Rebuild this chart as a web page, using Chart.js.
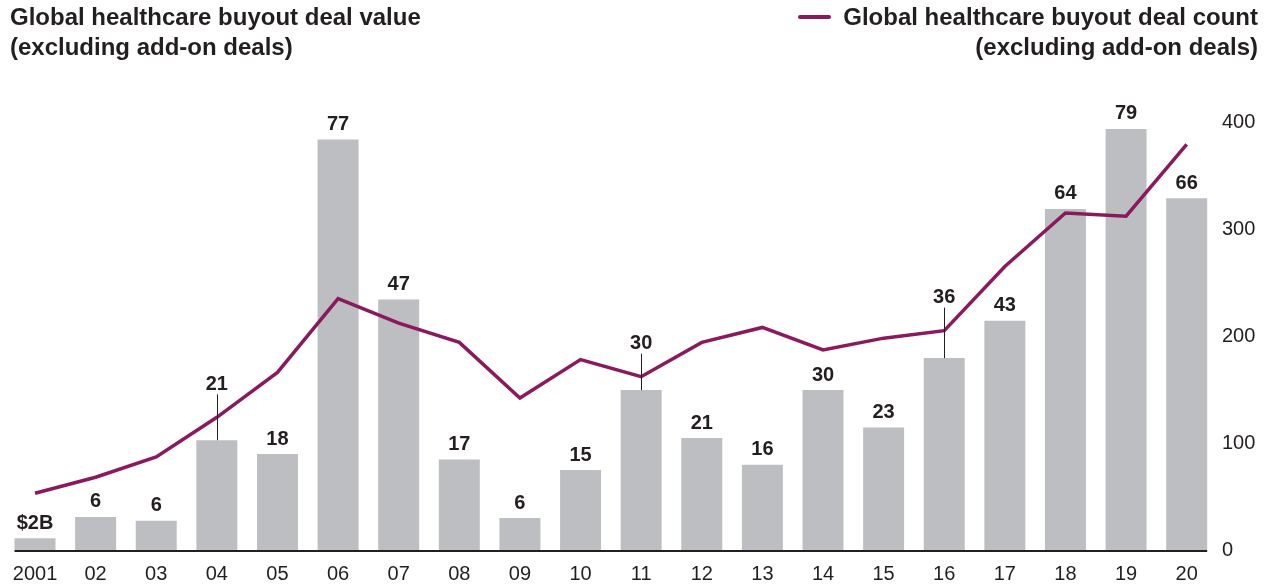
<!DOCTYPE html>
<html>
<head>
<meta charset="utf-8">
<script src="https://cdn.jsdelivr.net/npm/chart.js@4/dist/chart.umd.min.js"></script>
<style>
  html, body { margin: 0; padding: 0; background: #fff; }
  #wrap { position: relative; width: 1272px; height: 586px; overflow: hidden; font-family: "Liberation Sans", Arial, sans-serif; color: #231F20; }
  #c { position: absolute; left: 0; top: 0; }
  .title { position: absolute; font-weight: bold; font-size: 24px; line-height: 30px; white-space: nowrap; }
  #t1 { left: 10px; top: 2px; }
  #t2 { right: 14px; top: 2px; text-align: right; }
  #leg { position: absolute; left: 798px; top: 15px; width: 33px; height: 4px; background: #8A1A5E; border-radius: 2px; }
</style>
</head>
<body>
<div id="wrap">
  <canvas id="c" width="1272" height="586"></canvas>
  <div class="title" id="t1">Global healthcare buyout deal value<br>(excluding add-on deals)</div>
  <div id="leg"></div>
  <div class="title" id="t2">Global healthcare buyout deal count<br>(excluding add-on deals)</div>
</div>
<script>
const categories = ["2001","02","03","04","05","06","07","08","09","10","11","12","13","14","15","16","17","18","19","20"];
const dealValue = [2.2,6.2,5.5,20.6,18,77,47,17,6,15,30,21,16,30,23,36,43,64,79,66];
const valueLabels = ["$2B","6","6","21","18","77","47","17","6","15","30","21","16","30","23","36","43","64","79","66"];
const dealCount = [53,68,87,124,166,235,212,194,142,178,162,194,208,187,198,205,265,315,312,379];
const countTicks = [0,100,200,300,400];

const TEXT = "#231F20";
const FONT = "'Liberation Sans', Arial, sans-serif";

const overlay = {
  id: "overlay",
  afterDatasetsDraw(chart) {
    const ctx = chart.ctx;
    const lineMeta = chart.getDatasetMeta(0);
    const barMeta = chart.getDatasetMeta(1);
    ctx.save();
    // baseline
    const first = barMeta.data[0], last = barMeta.data[barMeta.data.length - 1];
    const yBase = chart.scales.yBar.getPixelForValue(0);
    ctx.strokeStyle = TEXT;
    ctx.lineWidth = 2;
    ctx.beginPath();
    ctx.moveTo(first.x - first.width / 2, yBase + 1);
    ctx.lineTo(last.x + last.width / 2, yBase + 1);
    ctx.stroke();
    // labels
    ctx.font = "bold 20px " + FONT;
    ctx.fillStyle = TEXT;
    ctx.textAlign = "center";
    ctx.textBaseline = "middle";
    barMeta.data.forEach((bar, i) => {
      const top = bar.y;
      let ly = top - 15;
      const lineY = lineMeta.data[i].y;
      if (lineY > ly - 14 && lineY < ly + 12) {
        ly = lineY - 33;
        ctx.strokeStyle = TEXT;
        ctx.lineWidth = 1;
        ctx.beginPath();
        ctx.moveTo(Math.round(bar.x) + 0.5, ly + 10);
        ctx.lineTo(Math.round(bar.x) + 0.5, top);
        ctx.stroke();
      }
      ctx.fillText(valueLabels[i], bar.x, ly);
    });
    ctx.restore();
  }
};

new Chart(document.getElementById("c"), {
  data: {
    labels: categories,
    datasets: [
      {
        type: "line",
        data: dealCount,
        yAxisID: "yCount",
        borderColor: "#8A1A5E",
        borderWidth: 3.5,
        pointRadius: 0,
        tension: 0,
        order: 0
      },
      {
        type: "bar",
        data: dealValue,
        yAxisID: "yBar",
        backgroundColor: "#BDBEC2",
        categoryPercentage: 1,
        barPercentage: 0.676,
        order: 1
      }
    ]
  },
  options: {
    responsive: false,
    animation: false,
    events: [],
    layout: { padding: { left: 4.7, top: 122, right: 0, bottom: 0 } },
    plugins: { legend: { display: false }, tooltip: { enabled: false } },
    scales: {
      x: {
        grid: { display: false, drawTicks: false },
        border: { display: false },
        ticks: { color: TEXT, font: { family: FONT, size: 20 }, padding: 12, maxRotation: 0, autoSkip: false },
        afterFit(s) { s.height = 36; }
      },
      yBar: {
        display: false,
        min: 0,
        max: 80.3
      },
      yCount: {
        position: "right",
        min: 0,
        max: 400,
        grid: { display: false, drawTicks: false },
        border: { display: false },
        ticks: { stepSize: 100, color: TEXT, font: { family: FONT, size: 20 }, padding: 5 },
        afterFit(s) { s.width = 55; }
      }
    }
  },
  plugins: [overlay]
});
</script>
</body>
</html>
